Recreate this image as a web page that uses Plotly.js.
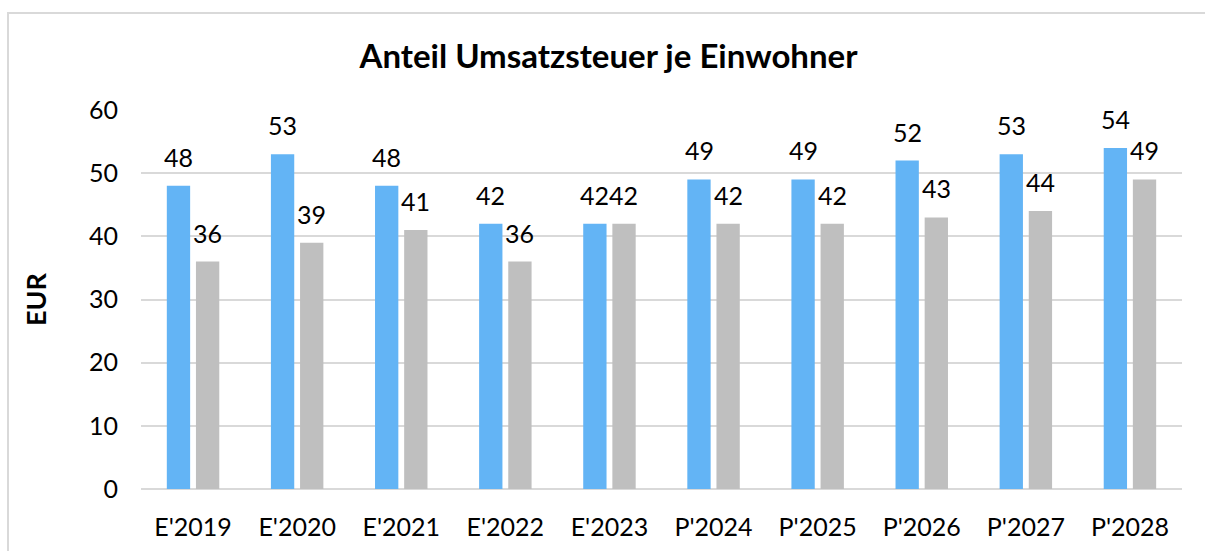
<!DOCTYPE html>
<html><head><meta charset="utf-8">
<script src="https://cdn.plot.ly/plotly-3.0.1.min.js"></script>
<style>
html,body{margin:0;padding:0;background:#fff;}
#wrap{position:relative;width:1205px;height:551px;overflow:hidden;}
#frame{position:absolute;left:7px;top:12px;width:1215px;height:560px;border:2px solid #D9D9D9;box-sizing:border-box;}
#chart{position:absolute;left:0;top:0;width:1205px;height:551px;}
</style></head>
<body><div id="wrap"><div id="frame"></div><div id="chart"></div></div>
<script>
const categories = ["E'2019","E'2020","E'2021","E'2022","E'2023","P'2024","P'2025","P'2026","P'2027","P'2028"];
const seriesA = [48,53,48,42,42,49,49,52,53,54];
const seriesB = [36,39,41,36,42,42,42,43,44,49];
const yTicks = [0,10,20,30,40,50,60];

const FONT = "Lato, 'Open Sans', sans-serif";
const blue = "#63B4F5", gray = "#BFBFBF";

const traces = [
  {type:'bar', x:categories, y:seriesA, marker:{color:blue}, hoverinfo:'none', name:'A'},
  {type:'bar', x:categories, y:seriesB, marker:{color:gray}, hoverinfo:'none', name:'B'}
];
const shift = 14.5;
const annotations = [];
categories.forEach((c,i)=>{
  annotations.push({x:c, y:seriesA[i], xref:'x', yref:'y', text:String(seriesA[i]), showarrow:false,
    xanchor:'center', yanchor:'bottom', xshift:-shift, yshift:12, font:{family:FONT,size:25,color:'#000'}});
  annotations.push({x:c, y:seriesB[i], xref:'x', yref:'y', text:String(seriesB[i]), showarrow:false,
    xanchor:'center', yanchor:'bottom', xshift:shift, yshift:12, font:{family:FONT,size:25,color:'#000'}});
});
const layout = {
  width:1205, height:551,
  margin:{l:141, r:23, t:110, b:62},
  paper_bgcolor:'rgba(0,0,0,0)', plot_bgcolor:'rgba(0,0,0,0)',
  showlegend:false,
  barmode:'group', bargap:0.44, bargroupgap:0.2,
  title:{text:'<b>Anteil Umsatzsteuer je Einwohner</b>', font:{family:FONT,size:33,color:'#000'}, x:0.505, xanchor:'center', y:0.897, yanchor:'middle'},
  xaxis:{type:'category', tickfont:{family:FONT,size:25,color:'#000'}, showgrid:false, showline:false, ticks:'', ticklabelstandoff:21},
  yaxis:{range:[0,60], tickvals:yTicks, ticktext:yTicks.map(String), tickfont:{family:FONT,size:25,color:'#000'},
    gridcolor:'#D9D9D9', gridwidth:2, zeroline:true, zerolinecolor:'#D9D9D9', zerolinewidth:2, showline:false, ticks:'', ticklabelstandoff:22,
    title:{text:'<b>EUR</b>', font:{family:FONT,size:27,color:'#000'}, standoff:34}},
  annotations:annotations
};
Plotly.newPlot('chart', traces, layout, {displayModeBar:false, staticPlot:true});
</script></body></html>
